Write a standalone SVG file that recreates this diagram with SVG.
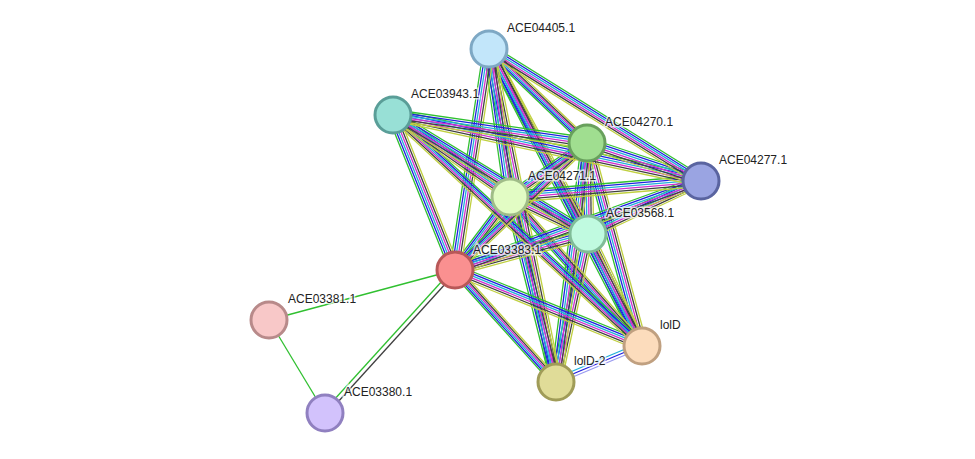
<svg xmlns="http://www.w3.org/2000/svg" xmlns:xlink="http://www.w3.org/1999/xlink" width="975" height="459" viewBox="0 0 975 459">
<style>
.l{font-family:"Liberation Sans",Arial,sans-serif;font-size:12px;fill:#222;stroke:#fff;stroke-width:3px;stroke-opacity:.7;paint-order:stroke}
.n{stroke-width:3px}
.w{stroke-width:1.3px;fill:none}
.g1{stroke:#30c030}.g2{stroke:#2020e0}.g3{stroke:#20b0d8}.g4{stroke:#d030d0}.g5{stroke:#404040}.g6{stroke:#c0d040}.g7{stroke:#9a9af0}
</style>
<defs>
<g id="V">
<line x1="489" y1="49" x2="455" y2="270"/><line x1="489" y1="49" x2="510" y2="197"/><line x1="489" y1="49" x2="588" y2="234"/>
<line x1="489" y1="49" x2="556" y2="382"/><line x1="489" y1="49" x2="642" y2="346"/><line x1="393" y1="115" x2="455" y2="270"/>
<line x1="587" y1="143" x2="588" y2="234"/><line x1="587" y1="143" x2="556" y2="382"/><line x1="587" y1="143" x2="642" y2="346"/>
<line x1="510" y1="197" x2="556" y2="382"/><line x1="510" y1="197" x2="642" y2="346"/><line x1="588" y1="234" x2="556" y2="382"/>
<line x1="588" y1="234" x2="642" y2="346"/><line x1="510" y1="197" x2="455" y2="270"/>
<line x1="489" y1="49" x2="587" y2="143"/><line x1="455" y1="270" x2="556" y2="382"/>
</g>
<g id="H">
<line x1="393" y1="115" x2="642" y2="346"/><line x1="489" y1="49" x2="701" y2="181"/><line x1="510" y1="197" x2="588" y2="234"/>
<line x1="588" y1="234" x2="455" y2="270"/><line x1="393" y1="115" x2="587" y2="143"/><line x1="393" y1="115" x2="701" y2="181"/>
<line x1="393" y1="115" x2="510" y2="197"/><line x1="393" y1="115" x2="588" y2="234"/><line x1="587" y1="143" x2="701" y2="181"/>
<line x1="587" y1="143" x2="510" y2="197"/><line x1="587" y1="143" x2="455" y2="270"/><line x1="701" y1="181" x2="510" y2="197"/>
<line x1="701" y1="181" x2="588" y2="234"/><line x1="701" y1="181" x2="455" y2="270"/><line x1="455" y1="270" x2="642" y2="346"/>
</g>
</defs>
<g id="edges">
<use xlink:href="#V" class="w g1" transform="translate(-5.5,0)"/>
<use xlink:href="#V" class="w g2" transform="translate(-3.3,0)"/>
<use xlink:href="#V" class="w g3" transform="translate(-1.1,0)"/>
<use xlink:href="#V" class="w g4" transform="translate(1.1,0)"/>
<use xlink:href="#V" class="w g5" transform="translate(3.3,0)"/>
<use xlink:href="#V" class="w g6" transform="translate(5.5,0)"/>
<use xlink:href="#H" class="w g1" transform="translate(0,-5.5)"/>
<use xlink:href="#H" class="w g2" transform="translate(0,-3.3)"/>
<use xlink:href="#H" class="w g3" transform="translate(0,-1.1)"/>
<use xlink:href="#H" class="w g4" transform="translate(0,1.1)"/>
<use xlink:href="#H" class="w g5" transform="translate(0,3.3)"/>
<use xlink:href="#H" class="w g6" transform="translate(0,5.5)"/>
<line class="w g3" x1="642" y1="342" x2="556" y2="378"/>
<line class="w g2" x1="642" y1="345" x2="556" y2="381"/>
<line class="w g7" x1="642" y1="348" x2="556" y2="384"/>
<line class="w g1" x1="455" y1="270" x2="269" y2="320"/>
<line class="w g1" x1="269" y1="320" x2="325" y2="413"/>
<line class="w g1" x1="453" y1="269" x2="323" y2="412"/>
<line class="w g5" x1="457" y1="271" x2="327" y2="414"/>
</g>
<g id="n-ACE04405.1"><circle class="n" cx="489" cy="49" r="18" fill="#c2e6fa" stroke="#7ea8c4"/><text class="l" x="507" y="32">ACE04405.1</text></g>
<g id="n-ACE03943.1"><circle class="n" cx="393" cy="115" r="18" fill="#98e0d6" stroke="#5a9e98"/><text class="l" x="411" y="98">ACE03943.1</text></g>
<g id="n-ACE04270.1"><circle class="n" cx="587" cy="143" r="18" fill="#a0de90" stroke="#68a05c"/><text class="l" x="605" y="126">ACE04270.1</text></g>
<g id="n-ACE04277.1"><circle class="n" cx="701" cy="181" r="18" fill="#9aa4e2" stroke="#5a64a0"/><text class="l" x="719" y="164">ACE04277.1</text></g>
<g id="n-ACE04271.1"><circle class="n" cx="510" cy="197" r="18" fill="#e2fcc4" stroke="#a0bc88"/><text class="l" x="528" y="180">ACE04271.1</text></g>
<g id="n-ACE03568.1"><circle class="n" cx="588" cy="234" r="18" fill="#c0fae0" stroke="#80bc98"/><text class="l" x="606" y="217">ACE03568.1</text></g>
<g id="n-ACE03383.1"><circle class="n" cx="455" cy="270" r="18" fill="#fa9090" stroke="#b85858"/><text class="l" x="473" y="254">ACE03383.1</text></g>
<g id="n-ACE03381.1"><circle class="n" cx="269" cy="320" r="18" fill="#f8c8c8" stroke="#b88a8a"/><text class="l" x="288" y="303">ACE03381.1</text></g>
<g id="n-lolD"><circle class="n" cx="642" cy="346" r="18" fill="#fcdcbc" stroke="#c0a080"/><text class="l" x="660" y="329">lolD</text></g>
<g id="n-lolD-2"><circle class="n" cx="556" cy="382" r="18" fill="#e0dc98" stroke="#a09c58"/><text class="l" x="574" y="365">lolD-2</text></g>
<g id="n-ACE03380.1"><circle class="n" cx="325" cy="413" r="18" fill="#d2c2fc" stroke="#9080c0"/><text class="l" x="344" y="396">ACE03380.1</text></g>
</svg>
